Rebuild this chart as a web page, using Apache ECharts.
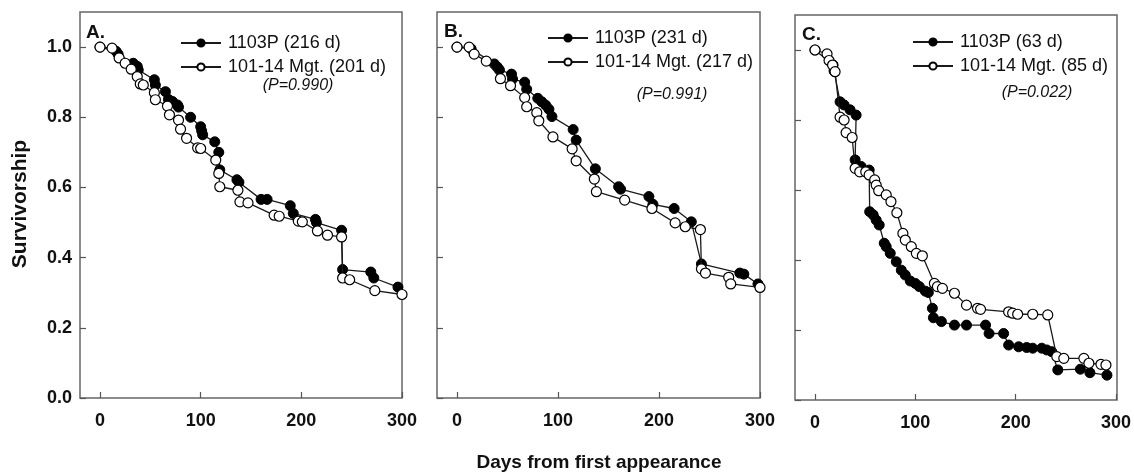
<!DOCTYPE html>
<html>
<head>
<meta charset="utf-8">
<script src="https://cdn.jsdelivr.net/npm/echarts@6/dist/echarts.min.js"></script>
<style>
html,body{margin:0;padding:0;background:#fff;}
#c{width:1134px;height:476px;}
</style>
</head>
<body>
<div id="c"></div>
<script>
// ---- data: [days, survivorship] ----
const A_1103P = [[0,1.0],[16,0.988],[18,0.98],[33,0.954],[37,0.945],[38,0.935],[54,0.907],[55,0.892],[65,0.873],[68,0.851],[72,0.845],[77,0.835],[78,0.829],[90,0.8],[100,0.773],[101,0.761],[102,0.75],[114,0.73],[118,0.7],[119,0.65],[136,0.622],[138,0.615],[160,0.566],[166,0.566],[189,0.548],[192,0.526],[214,0.509],[215,0.5],[240,0.478],[241,0.366],[269,0.359],[272,0.342],[296,0.316]];
const A_Mgt = [[0,1.0],[12,0.997],[19,0.969],[25,0.954],[31,0.937],[37,0.916],[40,0.895],[43,0.892],[54,0.87],[55,0.85],[67,0.832],[69,0.807],[78,0.792],[80,0.766],[86,0.74],[97,0.713],[100,0.711],[115,0.678],[118,0.64],[119,0.602],[137,0.592],[139,0.559],[147,0.556],[173,0.521],[178,0.518],[197,0.504],[201,0.502],[216,0.476],[226,0.464],[240,0.459],[241,0.342],[248,0.337],[273,0.306],[300,0.295]];
const B_1103P = [[0,1.0],[14,0.995],[37,0.952],[40,0.943],[42,0.935],[54,0.923],[55,0.909],[67,0.9],[69,0.88],[80,0.854],[84,0.844],[88,0.834],[91,0.823],[94,0.802],[115,0.765],[118,0.735],[137,0.653],[160,0.602],[162,0.595],[190,0.574],[194,0.552],[215,0.54],[232,0.502],[242,0.382],[280,0.356],[284,0.353],[298,0.325]];
const B_Mgt = [[0,1.0],[12,1.0],[17,0.98],[29,0.96],[43,0.91],[53,0.89],[67,0.856],[69,0.83],[79,0.813],[81,0.79],[95,0.744],[114,0.71],[118,0.676],[136,0.624],[138,0.588],[166,0.564],[193,0.54],[216,0.499],[226,0.488],[241,0.48],[242,0.368],[246,0.356],[269,0.344],[271,0.325],[300,0.315]];
const C_1103P = [[0,1.0],[18,0.957],[19,0.94],[25,0.852],[29,0.843],[35,0.829],[41,0.814],[40,0.686],[46,0.667],[54,0.657],[54.5,0.538],[58,0.529],[61,0.514],[64,0.5],[69,0.448],[71,0.438],[75,0.419],[81,0.395],[86,0.371],[90,0.357],[95,0.34],[100,0.333],[104,0.324],[110,0.311],[113,0.307],[117,0.262],[118,0.235],[126,0.224],[139,0.214],[151,0.214],[170,0.214],[173.5,0.19],[188,0.19],[193,0.157],[203,0.152],[211,0.15],[217,0.148],[226,0.148],[231,0.143],[236,0.138],[242,0.086],[264.5,0.088],[274,0.078],[291,0.071]];
const C_Mgt = [[0,1.0],[12,0.989],[14,0.97],[17.5,0.957],[20,0.938],[25,0.808],[29,0.8],[31,0.764],[37,0.75],[40,0.662],[44.6,0.652],[50.6,0.652],[54,0.643],[59.5,0.629],[61,0.614],[63.5,0.598],[71,0.586],[75.7,0.567],[81.6,0.535],[87.6,0.476],[90,0.457],[96,0.438],[101,0.419],[107,0.412],[119,0.333],[122,0.324],[127,0.319],[139,0.305],[151,0.271],[162,0.262],[165,0.259],[193,0.252],[197,0.248],[202,0.245],[217,0.245],[232,0.243],[241,0.124],[248,0.119],[268,0.119],[273,0.105],[285,0.102],[290,0.1]];

const panelLabels = ['A.', 'B.', 'C.'];
const blackNames = ['1103P (216 d)', '1103P (231 d)', '1103P (63 d)'];
const openNames = ['101-14 Mgt. (201 d)', '101-14 Mgt. (217 d)', '101-14 Mgt. (85 d)'];
const pValues = ['(P=0.990)', '(P=0.991)', '(P=0.022)'];
const xTicks = [0, 100, 200, 300];
const yTicks = [0, 0.2, 0.4, 0.6, 0.8, 1.0];
const yTitle = 'Survivorship';
const xTitle = 'Days from first appearance';

const blackData = [A_1103P, B_1103P, C_1103P];
const openData = [A_Mgt, B_Mgt, C_Mgt];

// ---- layout ----
// frame boxes (left edge corresponds to day -20)
const frames = [
  {left: 80, top: 12, width: 322, height: 386},
  {left: 437, top: 12, width: 323, height: 386},
  {left: 795, top: 15, width: 322, height: 385}
];
// plotting areas (left edge = day 0, right edge = day 300)
const plots = [
  {left: 100, top: 12, width: 302, height: 386},
  {left: 457, top: 12, width: 303, height: 386},
  {left: 815, top: 15, width: 302, height: 385}
];
const legendPos = [
  {left: 180, top: 34},
  {left: 547, top: 29},
  {left: 912, top: 33}
];
const pPos = [[298, 86], [672, 95], [1037, 93]];
const labelPos = [[86, 33], [444, 32], [802, 35]];

const FONT = '"Liberation Sans", Arial, sans-serif';
const LINE = '#1a1a1a';
const FRAME = '#666';
const TICK = '#555';

const chart = echarts.init(document.getElementById('c'), null, {renderer: 'canvas'});

const gridList = frames.map(g => Object.assign({show: true, borderColor: FRAME, borderWidth: 1.5, backgroundColor: 'transparent'}, g))
  .concat(plots.map(g => Object.assign({show: false}, g)));

const xAxes = [];
const yAxes = [];
for (let i = 0; i < 3; i++) {
  xAxes.push({type: 'value', gridIndex: i, min: 0, max: 1, show: false});
  yAxes.push({type: 'value', gridIndex: i, min: 0, max: 1, show: false});
}
for (let i = 0; i < 3; i++) {
  xAxes.push({
    type: 'value', gridIndex: 3 + i, min: 0, max: 300, interval: 100, position: 'bottom',
    axisLine: {show: false, onZero: false},
    splitLine: {show: false},
    axisTick: {show: true, inside: true, length: 6, lineStyle: {color: TICK, width: 1.2}},
    axisLabel: {show: true, margin: 14, color: '#111', fontSize: 18, fontWeight: 'bold', fontFamily: FONT}
  });
  yAxes.push({
    type: 'value', gridIndex: 3 + i, min: 0, max: 1.1, position: 'left', offset: plots[i].left - frames[i].left,
    axisLine: {show: false, onZero: false},
    splitLine: {show: false},
    axisTick: {show: true, inside: true, length: 6, lineStyle: {color: TICK, width: 1.2}, customValues: yTicks},
    axisLabel: {show: i === 0, customValues: yTicks, margin: 8, color: '#111', fontSize: 18, fontWeight: 'bold', fontFamily: FONT,
      formatter: v => v.toFixed(1)}
  });
}

const option = {
  animation: false,
  backgroundColor: '#fff',
  grid: gridList,
  xAxis: xAxes,
  yAxis: yAxes,
  legend: frames.map((g, i) => ({
    orient: 'vertical',
    left: legendPos[i].left, top: legendPos[i].top,
    data: [blackNames[i], openNames[i]],
    itemWidth: 40, itemHeight: 9, itemGap: 6,
    padding: 0,
    selectedMode: false,
    textStyle: {fontSize: 18, fontFamily: FONT, color: '#111', padding: [0, 0, 0, 2], lineHeight: 18}
  })),
  series: [],
  graphic: []
};

for (let i = 0; i < 3; i++) {
  option.series.push({
    name: blackNames[i], type: 'line', xAxisIndex: 3 + i, yAxisIndex: 3 + i,
    data: blackData[i], symbol: 'circle', symbolSize: 10, showSymbol: true, clip: false,
    lineStyle: {color: LINE, width: 1.3},
    itemStyle: {color: '#000', borderColor: '#000', borderWidth: 1},
    z: 2
  });
  option.series.push({
    name: openNames[i], type: 'line', xAxisIndex: 3 + i, yAxisIndex: 3 + i,
    data: openData[i], symbol: 'circle', symbolSize: 10, showSymbol: true, clip: false,
    lineStyle: {color: LINE, width: 1.3},
    itemStyle: {color: '#fff', borderColor: '#000', borderWidth: 1.2},
    z: 3
  });
  option.graphic.push({
    type: 'text', x: pPos[i][0], y: pPos[i][1],
    style: {text: pValues[i], fontSize: 16, fontStyle: 'italic', fontFamily: FONT, fill: '#111', align: 'center', verticalAlign: 'middle'}
  });
  option.graphic.push({
    type: 'text', x: labelPos[i][0], y: labelPos[i][1],
    style: {text: panelLabels[i], fontSize: 19, fontWeight: 'bold', fontFamily: FONT, fill: '#111', align: 'left', verticalAlign: 'middle'}
  });
}
option.graphic.push({
  type: 'text', x: 20, y: 204, rotation: Math.PI / 2,
  style: {text: yTitle, fontSize: 21, fontWeight: 'bold', fontFamily: FONT, fill: '#111', align: 'center', verticalAlign: 'middle'}
});
option.graphic.push({
  type: 'text', x: 599, y: 463,
  style: {text: xTitle, fontSize: 19, fontWeight: 'bold', fontFamily: FONT, fill: '#111', align: 'center', verticalAlign: 'middle'}
});

chart.setOption(option);
</script>
</body>
</html>
